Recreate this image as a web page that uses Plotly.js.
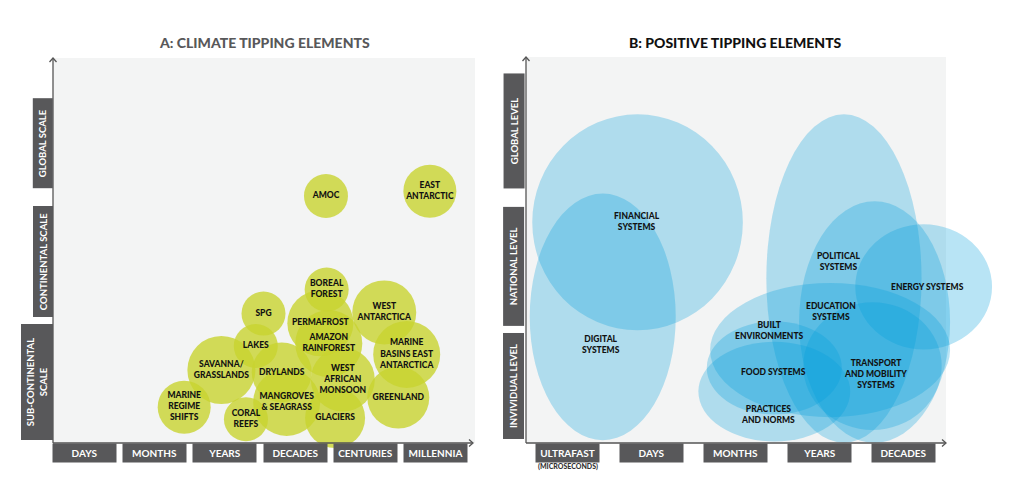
<!DOCTYPE html>
<html>
<head>
<meta charset="utf-8">
<script src="https://cdn.plot.ly/plotly-3.0.1.min.js"></script>
<style>html,body{margin:0;padding:0;background:#fff;}#chart{width:1011px;height:491px;}</style>
</head>
<body>
<div id="chart"></div>
<script>
// ---------- DATA ----------
// Panel A: climate tipping elements (x = timescale index, y = spatial scale level)
const timescalesA = ["DAYS", "MONTHS", "YEARS", "DECADES", "CENTURIES", "MILLENNIA"];
const scalesA = ["SUB-CONTINENTAL<br>SCALE", "CONTINENTAL SCALE", "GLOBAL SCALE"];
const climateNames = ["AMOC", "EAST<br>ANTARCTIC", "BOREAL<br>FOREST", "SPG", "PERMAFROST",
  "WEST<br>ANTARCTICA", "AMAZON<br>RAINFOREST", "LAKES", "MARINE<br>BASINS EAST<br>ANTARCTICA",
  "SAVANNA/<br>GRASSLANDS", "DRYLANDS", "WEST<br>AFRICAN<br>MONSOON", "GREENLAND",
  "MARINE<br>REGIME<br>SHIFTS", "MANGROVES<br>& SEAGRASS", "CORAL<br>REEFS", "GLACIERS"];
const climateTime = [3.44, 4.92, 3.45, 2.55, 3.36, 4.27, 3.48, 2.44, 4.59, 1.95, 2.81, 3.68, 4.47, 1.42, 2.88, 2.30, 3.57];
const climateScale = [2.55, 2.59, 1.77, 1.57, 1.49, 1.58, 1.32, 1.30, 1.23, 1.10, 1.08, 1.02, 0.87, 0.79, 0.83, 0.69, 0.70];
const climateSize = [44, 53, 44, 44, 66, 64, 67, 44, 67, 68, 60, 64, 62, 53, 67, 44, 60];

// Panel B: positive tipping elements (ellipse spans in timescale / level units)
const timescalesB = ["ULTRAFAST", "DAYS", "MONTHS", "YEARS", "DECADES"];
const levelsB = ["INVIVIDUAL LEVEL", "NATIONAL LEVEL", "GLOBAL LEVEL"];
const systemNames = ["FINANCIAL<br>SYSTEMS", "DIGITAL<br>SYSTEMS", "POLITICAL<br>SYSTEMS", "EDUCATION<br>SYSTEMS",
  "ENERGY SYSTEMS", "BUILT<br>ENVIRONMENTS", "FOOD SYSTEMS", "PRACTICES<br>AND NORMS", "TRANSPORT<br>AND MOBILITY<br>SYSTEMS"];
const timeMin = [-0.42, -0.45, 2.37, 2.76, 3.43, 1.70, 1.66, 1.56, 2.81];
const timeMax = [2.09, 1.29, 4.22, 4.56, 5.06, 4.56, 3.27, 3.37, 4.46];
const levelMin = [1.44, 0.58, 0.56, 0.56, 1.29, 0.76, 0.78, 0.57, 0.66];
const levelMax = [3.13, 2.51, 3.13, 2.45, 2.27, 1.81, 1.51, 1.35, 1.66];
const labelTime = [0.83, 0.40, 3.23, 3.14, 4.29, 2.41, 2.45, 2.39, 3.67];
const labelLevel = [2.29, 1.33, 1.98, 1.59, 1.78, 1.44, 1.11, 0.78, 1.10];

// ---------- LAYOUT HELPERS ----------
const W = 1011, H = 491;
const px = v => v / W;
const py = v => 1 - v / H;
const FONT = 'Lato, "Open Sans", sans-serif';
const AXIS_GREY = '#58585a';
const boldFont = (size, color) => ({family: FONT, size: size, color: color, weight: 900});

const traces = [{
  type: 'scatter', mode: 'markers+text', xaxis: 'x', yaxis: 'y',
  x: climateTime, y: climateScale, text: climateNames,
  textposition: 'middle center', cliponaxis: false, hoverinfo: 'skip',
  textfont: boldFont(8.5, '#111'),
  marker: {size: climateSize, sizemode: 'diameter', color: 'rgb(200,211,48)', opacity: 0.8, line: {width: 0}}
}];

const shapes = [];
const annotations = [];

// backgrounds
shapes.push({type: 'rect', xref: 'paper', yref: 'paper', x0: px(53), x1: px(475), y0: py(443), y1: py(58),
  fillcolor: '#f3f4f4', line: {width: 0}, layer: 'below'});
shapes.push({type: 'rect', xref: 'paper', yref: 'paper', x0: px(526), x1: px(946), y0: py(443), y1: py(57),
  fillcolor: '#f3f4f4', line: {width: 0}, layer: 'below'});

// ellipses panel B
for (let i = 0; i < systemNames.length; i++) {
  shapes.push({type: 'circle', xref: 'x2', yref: 'y2', x0: timeMin[i], x1: timeMax[i], y0: levelMin[i], y1: levelMax[i],
    fillcolor: 'rgba(0,157,220,0.28)', line: {width: 0}, layer: 'above'});
  annotations.push({xref: 'x2', yref: 'y2', x: labelTime[i], y: labelLevel[i], text: systemNames[i], showarrow: false,
    xanchor: 'center', yanchor: 'middle', font: boldFont(8.5, '#111'), align: 'center'});
}

// axis lines with arrows
function axisLines(xl, xr, yb, yt) {
  const ln = {color: '#555', width: 1.3};
  shapes.push({type: 'line', xref: 'paper', yref: 'paper', x0: px(xl), x1: px(xl), y0: py(yb), y1: py(yt + 1), line: ln});
  shapes.push({type: 'line', xref: 'paper', yref: 'paper', x0: px(xl), x1: px(xr - 1), y0: py(yb), y1: py(yb), line: ln});
  shapes.push({type: 'path', xref: 'paper', yref: 'paper', line: ln,
    path: `M${px(xl - 3.5)},${py(yt + 4)} L${px(xl)},${py(yt)} L${px(xl + 3.5)},${py(yt + 4)}`});
  shapes.push({type: 'path', xref: 'paper', yref: 'paper', line: ln,
    path: `M${px(xr - 4)},${py(yb - 3.5)} L${px(xr)},${py(yb)} L${px(xr - 4)},${py(yb + 3.5)}`});
}
axisLines(53, 473, 443, 58);
axisLines(526, 946, 443, 57);

// x category boxes
function xBoxes(labels, xref, w) {
  labels.forEach((t, i) => annotations.push({xref: xref, yref: 'paper', x: i, y: py(443), xanchor: 'center', yanchor: 'top',
    text: t, showarrow: false, width: w, height: 18, borderpad: 0, bgcolor: AXIS_GREY,
    font: {family: FONT, size: 10, color: '#fff', weight: 700}}));
}
xBoxes(timescalesA, 'x', 63);
xBoxes(timescalesB, 'x2', 63);
annotations.push({xref: 'paper', yref: 'paper', x: px(568), y: py(466), xanchor: 'center', yanchor: 'middle',
  text: '(MICROSECONDS)', showarrow: false, font: boldFont(7, '#333')});

// y category boxes
const yBoxA = [{len: 115, th: 31, c: 1.0}, {len: 110, th: 19, c: 2.0}, {len: 89, th: 19, c: 2.99}];
scalesA.forEach((t, i) => annotations.push({xref: 'paper', yref: 'y', x: px(53), y: yBoxA[i].c, xanchor: 'right', yanchor: 'middle',
  text: t, textangle: -90, showarrow: false, width: yBoxA[i].len, height: yBoxA[i].th, borderpad: 0, bgcolor: AXIS_GREY,
  font: {family: FONT, size: 9.5, color: '#fff', weight: 700}}));
const yBoxB = [{len: 105, th: 20, c: 1.0}, {len: 118, th: 20, c: 1.94}, {len: 114, th: 20, c: 3.0}];
levelsB.forEach((t, i) => annotations.push({xref: 'paper', yref: 'y2', x: px(525), y: yBoxB[i].c, xanchor: 'right', yanchor: 'middle',
  text: t, textangle: -90, showarrow: false, width: yBoxB[i].len, height: yBoxB[i].th, borderpad: 0, bgcolor: AXIS_GREY,
  font: {family: FONT, size: 9.5, color: '#fff', weight: 700}}));

// titles
annotations.push({xref: 'paper', yref: 'paper', x: px(264), y: py(43), xanchor: 'center', yanchor: 'middle',
  text: 'A: CLIMATE TIPPING ELEMENTS', showarrow: false, font: boldFont(14, '#58585a')});
annotations.push({xref: 'paper', yref: 'paper', x: px(735), y: py(43), xanchor: 'center', yanchor: 'middle',
  text: 'B: POSITIVE TIPPING ELEMENTS', showarrow: false, font: boldFont(14, '#111')});

const hidden = {showgrid: false, zeroline: false, showticklabels: false, showline: false, ticks: '', fixedrange: true};
const layout = {
  width: W, height: H, margin: {l: 0, r: 0, t: 0, b: 0},
  paper_bgcolor: '#fff', plot_bgcolor: 'rgba(0,0,0,0)', showlegend: false,
  xaxis: Object.assign({domain: [px(53), px(475)], range: [-0.4487, 5.563], anchor: 'y'}, hidden),
  yaxis: Object.assign({domain: [py(443), py(58)], range: [0.4917, 3.7], anchor: 'x'}, hidden),
  xaxis2: Object.assign({domain: [px(526), 1], range: [-0.4946, 5.286], anchor: 'y2'}, hidden),
  yaxis2: Object.assign({domain: [py(443), py(58)], range: [0.5577, 3.571], anchor: 'x2'}, hidden),
  shapes: shapes, annotations: annotations
};
Plotly.newPlot('chart', traces, layout, {displayModeBar: false, staticPlot: true});
</script>
</body>
</html>
